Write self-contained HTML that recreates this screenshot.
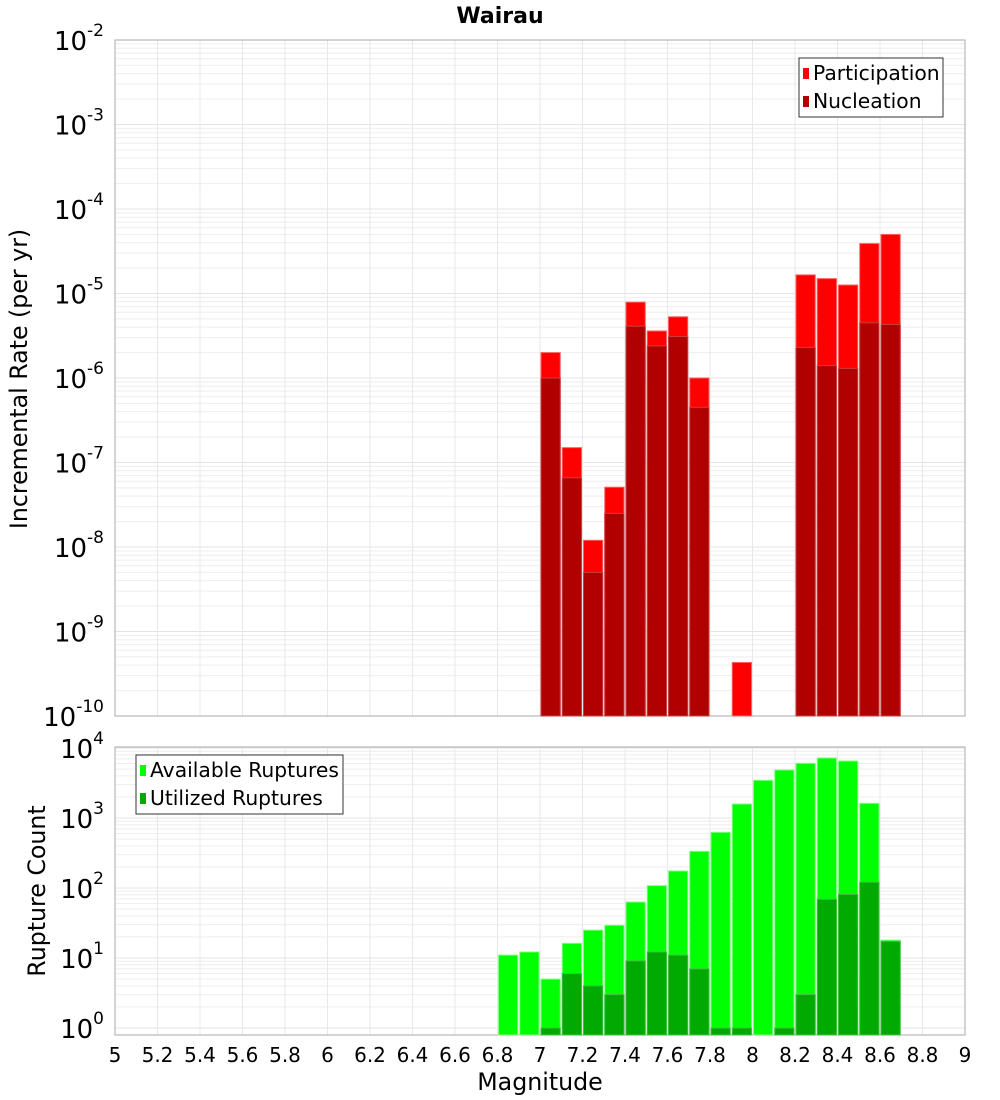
<!DOCTYPE html>
<html><head><meta charset="utf-8"><style>
body{margin:0;background:#fff}
svg{display:block;font-family:"DejaVu Sans","Liberation Sans",sans-serif}
</style></head><body>
<svg id="chart" width="1000" height="1100" viewBox="0 0 1000 1100" xmlns="http://www.w3.org/2000/svg">
<text x="500" y="23" text-anchor="middle" font-size="22" font-weight="bold">Wairau</text>
<g id="top"></g><g id="bot"></g>
<text transform="translate(27,379) rotate(-90)" text-anchor="middle" font-size="23.7">Incremental Rate (per yr)</text>
<text transform="translate(45,891) rotate(-90)" text-anchor="middle" font-size="23.7">Rupture Count</text>
<text x="540" y="1090" text-anchor="middle" font-size="23.7">Magnitude</text>
</svg>
<script>
const mags = [6.8,6.9,7.0,7.1,7.2,7.3,7.4,7.5,7.6,7.7,7.8,7.9,8.0,8.1,8.2,8.3,8.4,8.5,8.6];
const participation = [0,0,2.0e-6,1.5e-7,1.2e-8,5.1e-8,7.9e-6,3.6e-6,5.3e-6,1.0e-6,0,4.3e-10,0,0,1.66e-5,1.5e-5,1.26e-5,3.9e-5,5.0e-5];
const nucleation = [0,0,1.0e-6,6.6e-8,5e-9,2.5e-8,4.1e-6,2.4e-6,3.1e-6,4.5e-7,0,0,0,0,2.3e-6,1.4e-6,1.3e-6,4.5e-6,4.3e-6];
const available = [11,12.2,5.0,16.2,25,29.3,63,108,175,334,625,1585,3456,4850,6040,7200,6520,1620,18];
const utilized = [0,0,1,6.0,4.0,3.0,9.1,12.2,11,7.0,1,1,0,1,3.0,69,81,121,17.3];
const xTicks = [5,5.2,5.4,5.6,5.8,6,6.2,6.4,6.6,6.8,7,7.2,7.4,7.6,7.8,8,8.2,8.4,8.6,8.8,9];
const topDecades = [-10,-9,-8,-7,-6,-5,-4,-3,-2];
const botDecades = [0,1,2,3,4];

const NS="http://www.w3.org/2000/svg";
const X0=115,X1=965;
const xs=m=>X0+(m-5)/4*(X1-X0);
const T={top:40,bot:716,ys:v=>40+(-2-Math.log10(v))*84.5};
const B={top:747,bot:1035,ys:v=>1028-Math.log10(v)*70};
function el(p,t,a){const e=document.createElementNS(NS,t);for(const k in a)e.setAttribute(k,a[k]);p.appendChild(e);return e;}
function panel(g,P,decades,name){
  for(const d of decades){for(let k=1;k<10;k++){const y=P.ys(k*Math.pow(10,d));if(y<P.top||y>P.bot)continue;
    const l=el(g,'line',{x1:X0,x2:X1,y1:y,y2:y,stroke:k==1?'#e4e4e4':'#eeeeee','stroke-width':1});
    
    }}
  for(const t of xTicks){const x=xs(t);const l=el(g,'line',{x1:x,x2:x,y1:P.top,y2:P.bot,stroke:'#e8e8e8'});
    
    }
  const r=el(g,'rect',{x:X0,y:P.top,width:X1-X0,height:P.bot-P.top,fill:'none',stroke:'#aaa'});
  
  
  for(const d of decades){const y=P.ys(Math.pow(10,d));
    const t=el(g,'text',{x:104,y:y+10,'text-anchor':'end','font-size':26});
    
    
    t.textContent='10';
    const s=el(t,'tspan',{dy:-14,'font-size':17});s.textContent=String(d);}
}
function bars(g,P,vals,fill,stroke,name){
  mags.forEach((m,i)=>{const v=vals[i];if(!v)return;const y=Math.max(P.top,P.ys(v));
    const r=el(g,'rect',{x:xs(m)+1,y:y,width:xs(m+0.1)-xs(m)-2,height:P.bot-y,fill:fill,stroke:stroke,'stroke-width':1});
    
    });
}
function legend(g,x,y,w,items,name){
  const b=el(g,'rect',{x:x,y:y,width:w,height:59,fill:'#fff',stroke:'#333'});
  
  
  items.forEach((it,i)=>{const cy=y+15+i*28;
    const s=el(g,'rect',{x:x+4,y:cy-5,width:6,height:11,fill:it[1]});
    
    
    const t=el(g,'text',{x:x+14,y:cy+7,'font-size':20.3});
    
    
    t.textContent=it[0];});
}
const gt=document.getElementById('top'),gb=document.getElementById('bot');
panel(gt,T,topDecades,'top');
bars(gt,T,participation,'#ff0000','#ff6060','participation');
bars(gt,T,nucleation,'#b00000','#c84040','nucleation');
legend(gt,799,58,144,[['Participation','#ff0000'],['Nucleation','#b00000']],'top-legend');
panel(gb,B,botDecades,'bottom');
bars(gb,B,available,'#00ff00','#80ff80','available');
bars(gb,B,utilized,'#00aa00','#40c040','utilized');
legend(gb,136,755,207,[['Available Ruptures','#00ff00'],['Utilized Ruptures','#00aa00']],'bottom-legend');
for(const t of xTicks){const tx=el(gb,'text',{x:xs(t),y:1062,'text-anchor':'middle','font-size':20});
  
  
  tx.textContent=String(t);}
</script>
</body></html>
